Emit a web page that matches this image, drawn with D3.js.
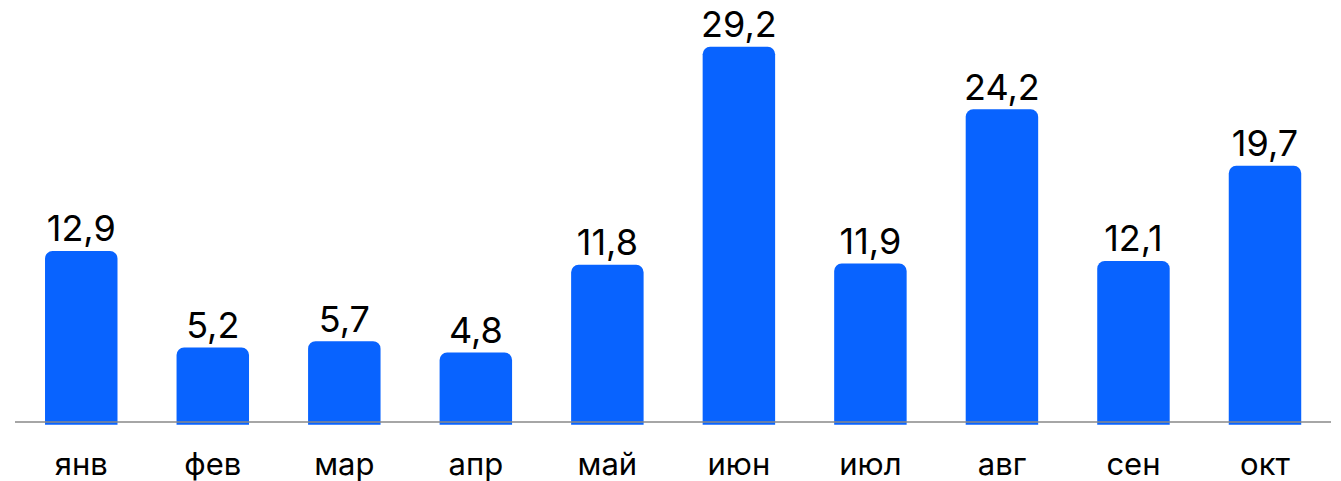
<!DOCTYPE html>
<html>
<head>
<meta charset="utf-8">
<script src="https://cdn.jsdelivr.net/npm/d3@7"></script>
<style>
  html, body { margin: 0; padding: 0; background: #fff; }
  svg { display: block; }
</style>
</head>
<body>
<svg id="chart" width="1341" height="481"></svg>
<script>
const categories = ["янв", "фев", "мар", "апр", "май", "июн", "июл", "авг", "сен", "окт"];
const values = [12.9, 5.2, 5.7, 4.8, 11.8, 29.2, 11.9, 24.2, 12.1, 19.7];
const valueLabels = ["12,9", "5,2", "5,7", "4,8", "11,8", "29,2", "11,9", "24,2", "12,1", "19,7"];

const svg = d3.select("#chart");
const baseline = 422;
const barBottom = 424.7;

const x = d3.scaleBand()
  .domain(categories)
  .range([15.5, 1330.75])
  .paddingInner(0.449)
  .paddingOuter(0.2245);

const y = d3.scaleLinear()
  .domain([0, 29.2])
  .range([412.6, 46.7]);

const r = 7.5;
function barPath(d, i) {
  const x0 = x(categories[i]);
  const w = x.bandwidth();
  const top = y(d);
  const path = d3.path();
  path.moveTo(x0, barBottom);
  path.lineTo(x0, top + r);
  path.arcTo(x0, top, x0 + r, top, r);
  path.lineTo(x0 + w - r, top);
  path.arcTo(x0 + w, top, x0 + w, top + r, r);
  path.lineTo(x0 + w, barBottom);
  path.closePath();
  return path.toString();
}

svg.append("g")
  .selectAll("path")
  .data(values)
  .join("path")
  .attr("d", (d, i) => barPath(d, i))
  .attr("fill", "#0863FF");

svg.append("line")
  .attr("x1", 15).attr("x2", 1331)
  .attr("y1", baseline).attr("y2", baseline)
  .attr("stroke", "#888888")
  .attr("stroke-width", 1.3);

svg.append("g")
  .selectAll("text")
  .data(values)
  .join("text")
  .attr("x", (d, i) => x(categories[i]) + x.bandwidth() / 2)
  .attr("y", d => y(d) - 9.5)
  .attr("text-anchor", "middle")
  .attr("font-family", "Inter, 'Noto Sans', sans-serif")
  .attr("font-size", 36)
  .attr("fill", "#000")
  .text((d, i) => valueLabels[i]);

svg.append("g")
  .selectAll("text")
  .data(categories)
  .join("text")
  .attr("x", d => x(d) + x.bandwidth() / 2)
  .attr("y", 475)
  .attr("text-anchor", "middle")
  .attr("font-family", "Inter, 'Noto Sans', sans-serif")
  .attr("font-size", 31)
  .attr("fill", "#000")
  .text(d => d);
</script>
</body>
</html>
